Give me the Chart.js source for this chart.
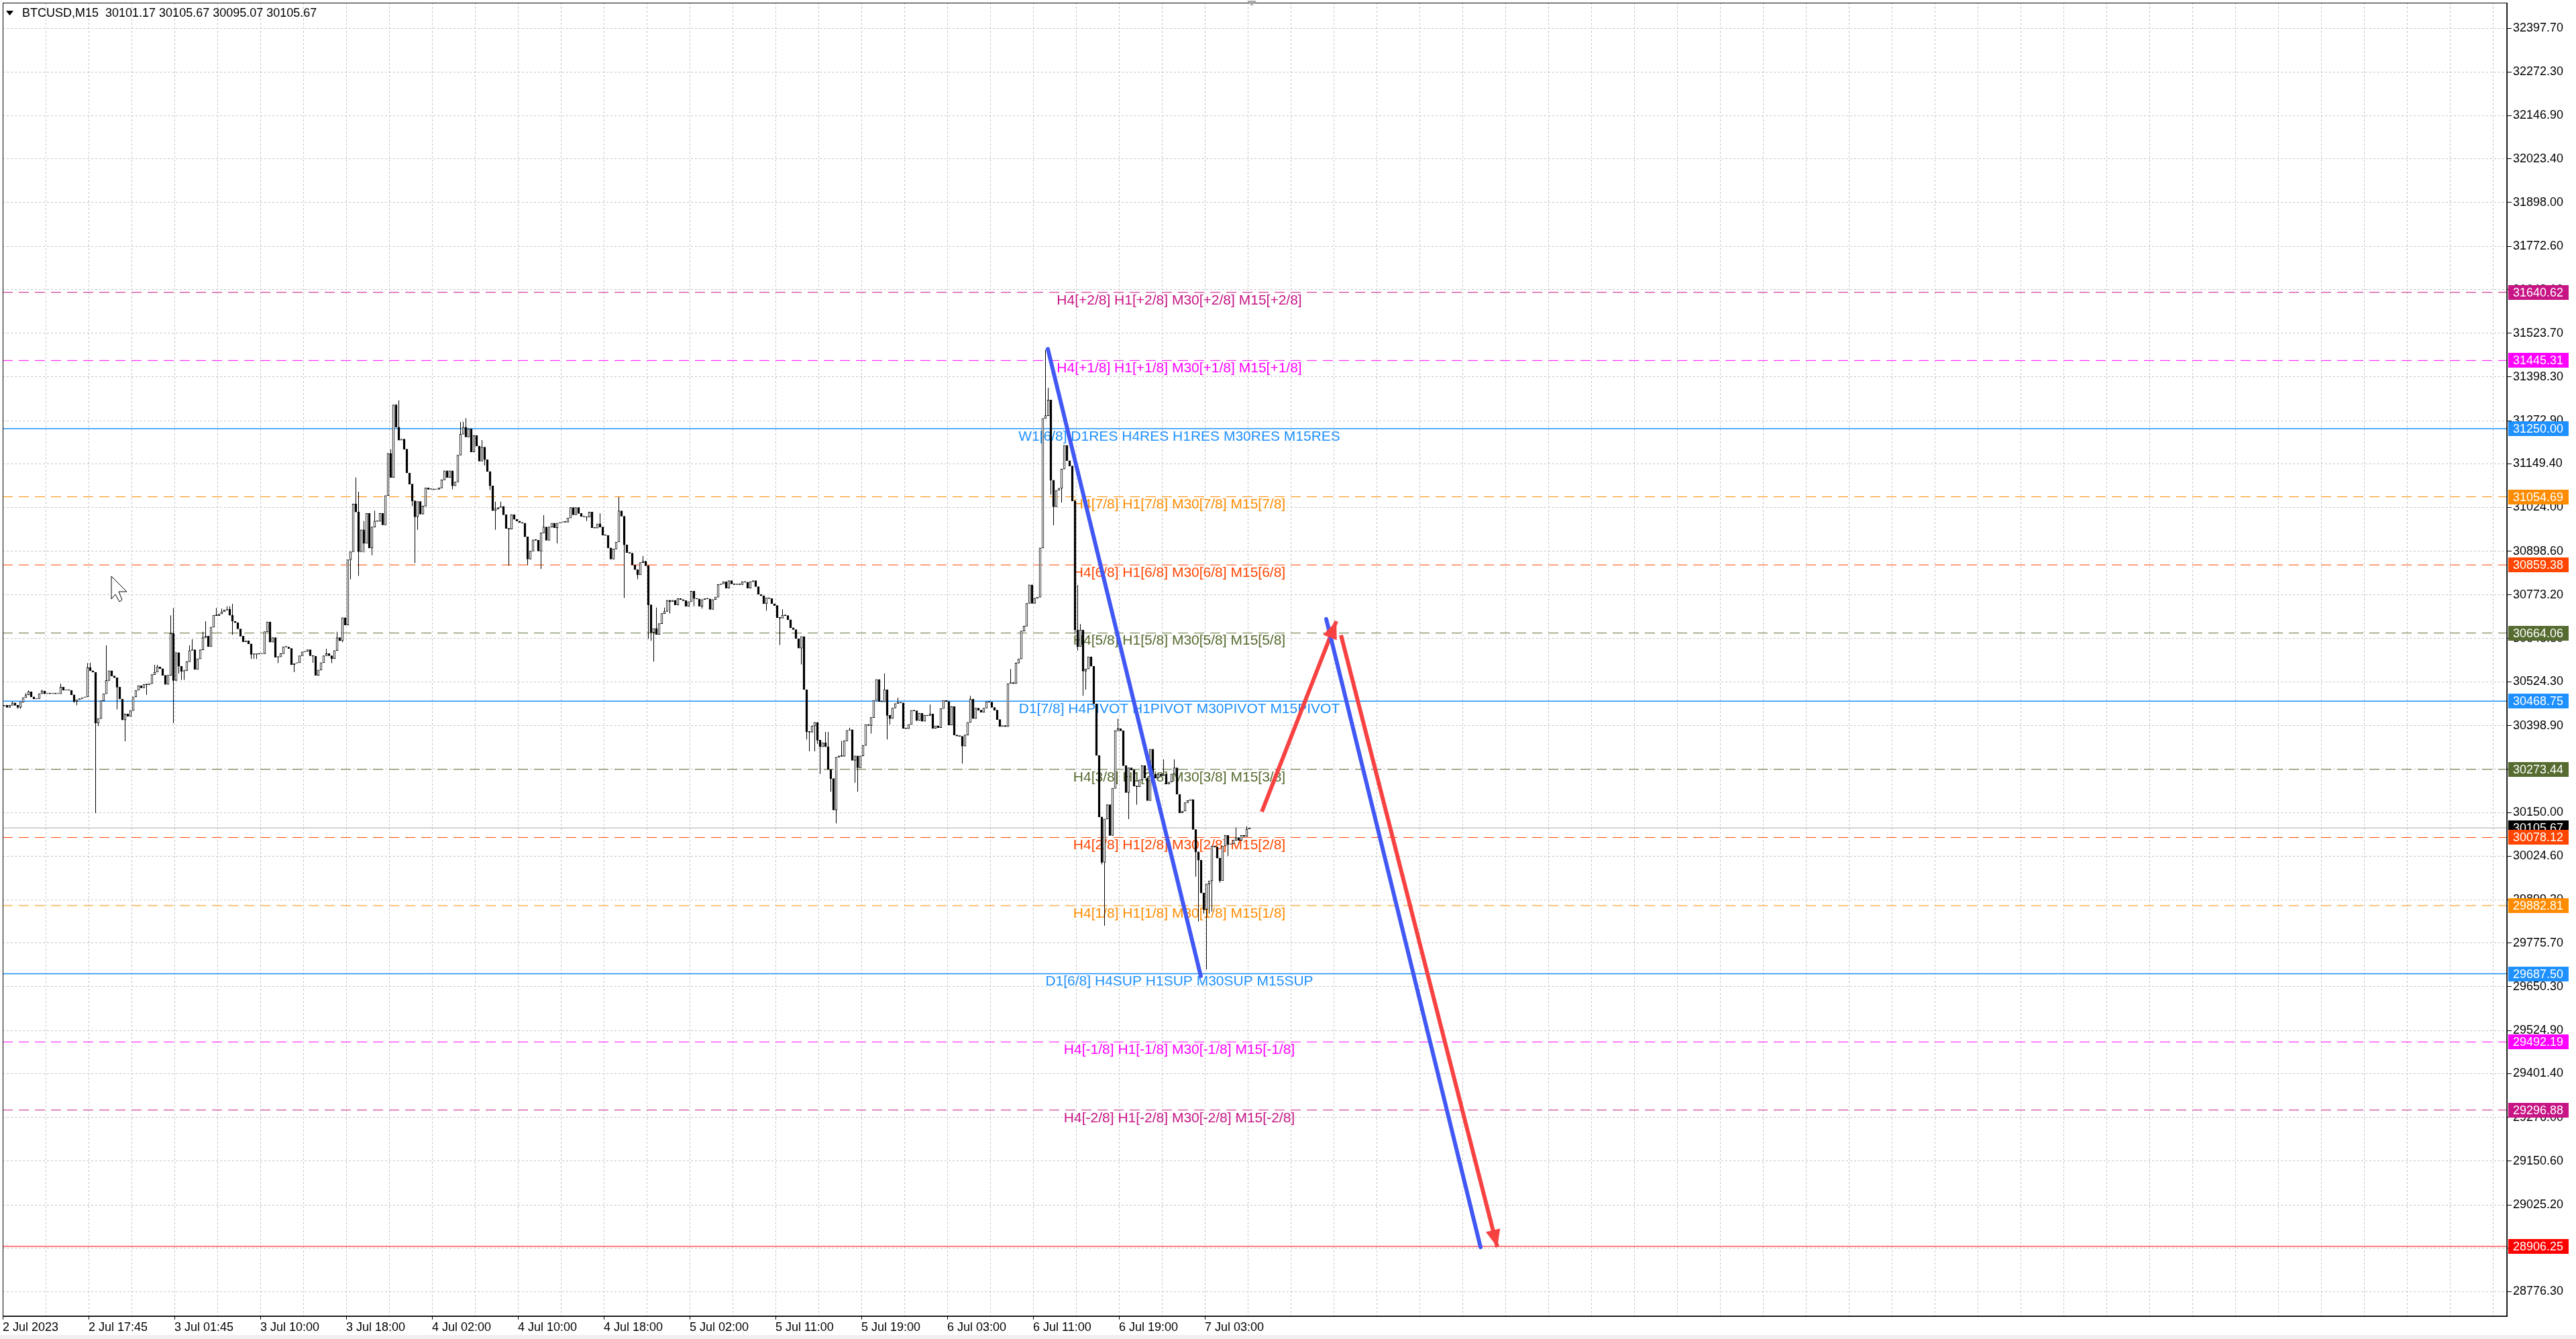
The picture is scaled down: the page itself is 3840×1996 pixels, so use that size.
<!DOCTYPE html>
<html>
<head>
<meta charset="utf-8">
<title>BTCUSD,M15</title>
<script src="https://cdn.jsdelivr.net/npm/chart.js@4.4.1/dist/chart.umd.min.js"></script>
<style>
  html, body { margin: 0; padding: 0; background: #fff; overflow: hidden; }
  #wrap { width: 3840px; height: 1996px; }
</style>
</head>
<body>
<div id="wrap"><canvas id="chart" width="3840" height="1996" style="width:3840px;height:1996px"></canvas></div>
<script>
// --- data ---
const headerText = 'BTCUSD,M15  30101.17 30105.67 30095.07 30105.67';
const firstOpen = 30455;

// close of every M15 bar, left to right
const closes = [
  30457,30451,30457,30464,30457,30451,30466,30479,30487,30496,30481,30475,30476,30490,30498,30490,30491,30490,30491,30490,
  30490,30509,30500,30502,30500,30487,30468,30473,30476,30479,30481,30565,30556,30552,30406,30419,30470,30490,30528,30556,
  30541,30536,30509,30475,30415,30432,30425,30442,30481,30500,30513,30507,30517,30516,30519,30545,30552,30567,30562,30543,
  30517,30543,30663,30528,30608,30569,30554,30556,30582,30614,30616,30560,30590,30616,30651,30655,30625,30681,30715,30714,
  30719,30725,30730,30732,30715,30698,30694,30676,30655,30639,30642,30633,30603,30603,30605,30604,30605,30668,30696,30638,
  30651,30595,30596,30605,30625,30624,30620,30573,30577,30579,30599,30610,30611,30616,30599,30598,30543,30558,30579,30599,
  30605,30599,30591,30614,30651,30642,30708,30687,30874,30897,31034,31011,30897,30960,30921,31007,30908,30968,30985,30984,
  31007,30974,31058,31179,31110,31318,31254,31217,31220,31191,31123,31091,31043,30997,31041,31005,31028,31080,31076,31077,
  31075,31076,31080,31103,31129,31110,31129,31086,31097,31174,31234,31254,31226,31249,31183,31230,31200,31157,31197,31161,
  31127,31086,31015,31020,31024,31027,31003,30964,30962,31003,30990,30985,30981,30979,30940,30876,30899,30931,30930,30899,
  30951,30968,30930,30968,30979,30966,30979,30981,30983,30982,30994,31024,31003,31024,31007,30998,30997,30996,31011,30966,
  30965,30977,30968,30945,30944,30908,30876,30905,30925,31014,30999,30917,30895,30893,30859,30846,30831,30866,30870,30857,
  30745,30666,30677,30660,30691,30720,30726,30758,30754,30758,30745,30763,30760,30757,30741,30754,30784,30763,30762,30741,
  30760,30763,30762,30732,30760,30767,30803,30805,30811,30793,30814,30805,30803,30804,30803,30811,30810,30793,30811,30814,
  30797,30775,30771,30748,30765,30763,30748,30743,30708,30707,30715,30714,30702,30679,30674,30648,30621,30654,30502,30381,
  30380,30398,30408,30357,30338,30350,30338,30273,30247,30157,30308,30312,30311,30355,30385,30387,30299,30312,30278,30312,
  30342,30402,30399,30422,30471,30531,30468,30467,30502,30428,30419,30449,30462,30465,30464,30391,30390,30402,30442,30441,
  30413,30434,30411,30428,30427,30432,30391,30398,30393,30448,30471,30468,30400,30453,30372,30369,30368,30340,30372,30408,
  30475,30419,30449,30443,30437,30449,30467,30466,30451,30443,30416,30396,30399,30396,30519,30522,30519,30578,30590,30670,
  30684,30749,30802,30749,30764,30767,30908,31279,31287,31332,31102,31026,31073,31079,31134,31202,31158,31143,31043,30673,
  30625,30673,30555,30561,30596,30569,30461,30313,30137,30007,30131,30172,30084,30219,30384,30390,30384,30284,30207,30278,
  30272,30225,30224,30243,30284,30249,30184,30331,30260,30249,30260,30255,30260,30231,30237,30260,30278,30202,30149,30154,
  30178,30184,30187,30101,30037,30013,29919,29872,29945,29954,30054,30051,30019,29954,30054,30084,30058,30060,30070,30078,
  30070,30084,30081,30102,30105.67
];

// wicks that stick out past the body: [bar number counted from 1, price]
const upperWicks = [
  [4,30468],[9,30492],[10,30500],[15,30502],[22,30519],[32,30578],[33,30579],[39,30629],[57,30573],[58,30573],
  [63,30715],[64,30736],[68,30559],[70,30629],[71,30646],[75,30668],[76,30698],[80,30736],[82,30734],[84,30741],
  [85,30741],[86,30748],[121,30619],[125,30668],[132,31110],[133,31069],[135,30985],[139,31015],[145,31191],[147,31320],
  [148,31331],[171,31269],[172,31269],[173,31280],[179,31217],[184,31041],[186,31041],[202,31002],[223,31007],[230,31054],
  [239,30885],[244,30737],[247,30737],[291,30732],[307,30381],[308,30381],[313,30355],[316,30393],[329,30548],[334,30479],
  [346,30459],[355,30451],[361,30484],[376,30561],[389,31476],[390,31367],[401,30802],[402,30690],[416,30419],[433,30302],
  [437,30302],[460,30107],[464,30110]
];
const lowerWicks = [
  [6,30447],[7,30447],[27,30464],[28,30457],[35,30148],[36,30397],[43,30445],[46,30354],[54,30487],[64,30406],
  [66,30548],[67,30530],[68,30530],[86,30659],[93,30590],[94,30590],[95,30590],[103,30578],[109,30552],[116,30579],
  [120,30579],[123,30578],[127,30638],[130,30818],[133,30828],[135,30895],[138,30887],[153,31028],[154,30865],[155,30960],
  [168,31076],[180,31144],[182,31074],[184,30960],[189,30857],[196,30859],[201,30848],[207,30921],[218,30985],[232,30765],
  [237,30818],[241,30647],[242,30642],[243,30582],[249,30720],[258,30741],[261,30734],[285,30728],[290,30630],[298,30574],
  [300,30359],[301,30325],[303,30325],[304,30346],[305,30260],[309,30209],[311,30119],[318,30235],[319,30209],[324,30376],
  [330,30359],[331,30402],[358,30290],[391,31061],[392,30973],[395,31038],[400,30661],[401,30614],[403,30484],[404,30502],
  [410,30001],[411,29825],[420,30131],[423,30172],[445,29966],[446,29837],[448,29860],[449,29700],[450,29860],[451,29866],
  [454,29948],[457,30025]
];

// time axis labels, one every 32 bars
const xLabels = ['2 Jul 2023','2 Jul 17:45','3 Jul 01:45','3 Jul 10:00','3 Jul 18:00','4 Jul 02:00','4 Jul 10:00',
  '4 Jul 18:00','5 Jul 02:00','5 Jul 11:00','5 Jul 19:00','6 Jul 03:00','6 Jul 11:00','6 Jul 19:00','7 Jul 03:00'];

// price axis labels
const yTicks = [32397.70,32272.30,32146.90,32023.40,31898.00,31772.60,31648.10,31523.70,31398.30,31272.90,
  31149.40,31024.00,30898.60,30773.20,30648.80,30524.30,30398.90,30273.40,30150.00,30024.60,
  29899.20,29775.70,29650.30,29524.90,29401.40,29276.00,29150.60,29025.20,28900.90,28776.30];

// Murrey / pivot levels
const levelPrices = [31640.62,31445.31,31250.00,31054.69,30859.38,30664.06,30468.75,
  30273.44,30078.12,29882.81,29687.50,29492.19,29296.88,28906.25];
const levelColors = ['#c71585','#ff00ff','#1e90ff','#ff8c00','#ff4500','#556b2f','#1e90ff',
  '#556b2f','#ff4500','#ff8c00','#1e90ff','#ff00ff','#c71585','#ff0000'];
const levelDashed = [true,true,false,true,true,true,false,true,true,true,false,true,true,false];
const levelTexts = [
  'H4[+2/8] H1[+2/8] M30[+2/8] M15[+2/8]',
  'H4[+1/8] H1[+1/8] M30[+1/8] M15[+1/8]',
  'W1[6/8] D1RES H4RES H1RES M30RES M15RES',
  'H4[7/8] H1[7/8] M30[7/8] M15[7/8]',
  'H4[6/8] H1[6/8] M30[6/8] M15[6/8]',
  'H4[5/8] H1[5/8] M30[5/8] M15[5/8]',
  'D1[7/8] H4PIVOT H1PIVOT M30PIVOT M15PIVOT',
  'H4[3/8] H1[3/8] M30[3/8] M15[3/8]',
  'H4[2/8] H1[2/8] M30[2/8] M15[2/8]',
  'H4[1/8] H1[1/8] M30[1/8] M15[1/8]',
  'D1[6/8] H4SUP H1SUP M30SUP M15SUP',
  'H4[-1/8] H1[-1/8] M30[-1/8] M15[-1/8]',
  'H4[-2/8] H1[-2/8] M30[-2/8] M15[-2/8]',
  ''
];
const bidPrice = 30105.67;

// hand drawn trend lines (x in bar slots, y in price)
const blueLeg1X = [389.5, 446.5],   blueLeg1Y = [31478, 29681];
const redLegUpX = [469.25, 497],    redLegUpY = [30152, 30698];
const redLegDownX = [498.75, 557],  redLegDownY = [30658, 28904];
const blueLeg2X = [493.25, 550.75], blueLeg2Y = [30704, 28904];

// --- setup ---
const slotCount = 933.25;   // visible bar slots across the window
const levelTextX = 438.5;   // where the level captions are centred
const FONT = '"Liberation Sans", Arial, sans-serif';

Chart.defaults.font.family = FONT;
Chart.defaults.font.size = 18;
Chart.defaults.color = '#000';

// open of a bar = close of the one before
const opens = closes.map((c, i) => i === 0 ? firstOpen : closes[i - 1]);
const highs = closes.map((c, i) => Math.max(c, opens[i]));
const lows = closes.map((c, i) => Math.min(c, opens[i]));
upperWicks.forEach(([n, p]) => { highs[n - 1] = Math.max(highs[n - 1], p); });
lowerWicks.forEach(([n, p]) => { lows[n - 1] = Math.min(lows[n - 1], p); });

const barX = i => i + 0.625;
const bodyData = closes.map((c, i) => ({ x: barX(i), y: [opens[i], c] }));
const wickData = closes.map((c, i) => ({ x: barX(i), y: [lows[i], highs[i]] }));
const bodyFill = closes.map((c, i) => c >= opens[i] ? '#ffffff' : '#000000');

const toPoints = (xs, ys) => xs.map((x, i) => ({ x: x, y: ys[i] }));

const levelSets = levelPrices.map((p, i) => ({
  type: 'line',
  data: [{ x: 0, y: p }, { x: slotCount, y: p }],
  borderColor: levelColors[i],
  borderWidth: levelColors[i] === '#1e90ff' ? 1.5 : 1,
  borderDash: levelDashed[i] ? [15, 9] : [],
  pointRadius: 0,
  order: 3
}));

const trendSet = (xs, ys, color, arrow) => ({
  type: 'line',
  data: toPoints(xs, ys),
  borderColor: color,
  borderWidth: 6,
  borderCapStyle: arrow ? 'butt' : 'round',
  pointRadius: 0,
  arrowHead: arrow,
  order: 0
});

// no label overhang padding, the plot runs right to the window edge
const noPad = scale => {
  scale.paddingTop = 0; scale.paddingBottom = 0;
  scale.paddingLeft = 0; scale.paddingRight = 0;
};

// captions, price boxes, frame and header
const mtPlugin = {
  id: 'mtDecor',
  beforeDatasetsDraw(chart) {
    const { ctx, scales: { x, y } } = chart;
    ctx.save();
    ctx.font = '21px ' + FONT;
    ctx.textAlign = 'center';
    ctx.textBaseline = 'middle';
    const cx = x.getPixelForValue(levelTextX);
    levelPrices.forEach((p, i) => {
      if (!levelTexts[i]) return;
      ctx.fillStyle = levelColors[i];
      ctx.fillText(levelTexts[i], cx, y.getPixelForValue(p) + 12);
    });
    ctx.restore();
  },
  afterDatasetsDraw(chart) {
    const { ctx } = chart;
    chart.data.datasets.forEach((ds, i) => {
      if (!ds.arrowHead) return;
      const pts = chart.getDatasetMeta(i).data;
      const a = pts[pts.length - 2], b = pts[pts.length - 1];
      const ang = Math.atan2(b.y - a.y, b.x - a.x);
      const len = 26, half = 11;
      const bx = b.x - len * Math.cos(ang), by = b.y - len * Math.sin(ang);
      ctx.save();
      ctx.fillStyle = ds.borderColor;
      ctx.beginPath();
      ctx.moveTo(b.x, b.y);
      ctx.lineTo(bx + half * Math.sin(ang), by - half * Math.cos(ang));
      ctx.lineTo(bx - half * Math.sin(ang), by + half * Math.cos(ang));
      ctx.closePath();
      ctx.fill();
      ctx.restore();
    });
  },
  afterDraw(chart) {
    const { ctx, chartArea: a, scales: { y } } = chart;
    ctx.save();
    // window edge
    ctx.fillStyle = '#f0f0f0';
    ctx.fillRect(0, 1990, 3840, 6);
    // frame
    ctx.strokeStyle = '#000';
    ctx.lineWidth = 1;
    ctx.strokeRect(a.left + 0.5, a.top + 0.5, a.right - a.left, a.bottom - a.top);
    ctx.lineWidth = 1.5;
    ctx.beginPath();
    ctx.moveTo(a.right, a.top); ctx.lineTo(a.right, a.bottom); ctx.lineTo(a.left, a.bottom);
    ctx.stroke();
    // chart shift marker
    ctx.fillStyle = '#a8a8a8';
    ctx.beginPath();
    ctx.moveTo(1859, 1); ctx.lineTo(1873, 1); ctx.lineTo(1866, 9); ctx.closePath();
    ctx.fill();
    // mouse pointer left on the chart
    ctx.fillStyle = '#fff';
    ctx.strokeStyle = '#000';
    ctx.lineWidth = 1;
    ctx.beginPath();
    ctx.moveTo(166, 859); ctx.lineTo(166, 893); ctx.lineTo(172, 886); ctx.lineTo(178, 897);
    ctx.lineTo(182, 894); ctx.lineTo(177, 882); ctx.lineTo(189, 882); ctx.closePath();
    ctx.fill(); ctx.stroke();

    // price boxes on the axis
    ctx.font = '18px ' + FONT;
    ctx.textAlign = 'left';
    ctx.textBaseline = 'middle';
    const box = (p, color) => {
      const py = Math.round(y.getPixelForValue(p));
      ctx.fillStyle = color;
      ctx.fillRect(a.right + 2, py - 11, 90, 22);
      ctx.fillStyle = '#fff';
      ctx.fillText(p.toFixed(2), a.right + 9, py + 1);
    };
    box(bidPrice, '#000');
    levelPrices.forEach((p, i) => box(p, levelColors[i]));

    // header
    ctx.fillStyle = '#000';
    ctx.beginPath();
    ctx.moveTo(9, 16); ctx.lineTo(20, 16); ctx.lineTo(14.5, 23); ctx.closePath();
    ctx.fill();
    ctx.fillText(headerText, 33, 20);
    ctx.restore();
  }
};

const ctx = document.getElementById('chart').getContext('2d');

const myChart = new Chart(ctx, {
  type: 'bar',
  data: {
    datasets: [
      trendSet(blueLeg1X, blueLeg1Y, 'rgb(66, 88, 244)', false),
      trendSet(blueLeg2X, blueLeg2Y, 'rgb(66, 88, 244)', false),
      trendSet(redLegUpX, redLegUpY, 'rgb(248, 66, 66)', true),
      trendSet(redLegDownX, redLegDownY, 'rgb(248, 66, 66)', true),
      {
        // candle bodies
        data: bodyData,
        backgroundColor: bodyFill,
        borderColor: '#000',
        borderWidth: 1,
        borderSkipped: false,
        barThickness: 3,
        minBarLength: 1,
        grouped: false,
        order: 1
      },
      {
        // high-low wicks
        data: wickData,
        backgroundColor: '#000',
        borderWidth: 0,
        barThickness: 1,
        inflateAmount: 0,
        grouped: false,
        order: 2
      },
      {
        type: 'line',
        data: [{ x: 0, y: bidPrice }, { x: slotCount, y: bidPrice }],
        borderColor: '#a9a9a9',
        borderWidth: 1,
        pointRadius: 0,
        order: 3
      },
      ...levelSets
    ]
  },
  options: {
    responsive: false,
    devicePixelRatio: 1,
    animation: false,
    events: [],
    layout: { padding: { left: 4, top: 4, right: 0, bottom: 0 }, autoPadding: false },
    plugins: { legend: { display: false }, tooltip: { enabled: false } },
    scales: {
      x: {
        type: 'linear',
        min: 0,
        max: slotCount,
        offset: false,
        bounds: 'data',
        afterBuildTicks: scale => {
          const t = [];
          for (let v = 0; v <= slotCount; v += 16) t.push({ value: v });
          scale.ticks = t;
        },
        afterFit: scale => { scale.height = 34; noPad(scale); },
        ticks: {
          autoSkip: false,
          maxRotation: 0,
          minRotation: 0,
          align: 'start',
          padding: 1,
          font: { size: 18 },
          callback: v => (v % 32 === 0 && v / 32 < xLabels.length) ? xLabels[v / 32] : ''
        },
        grid: {
          offset: false,
          color: '#c4c4c4',
          lineWidth: 1,
          tickLength: 5,
          tickColor: c => (c.tick && c.tick.value % 32 === 0 && c.tick.value / 32 < xLabels.length) ? '#000' : 'rgba(0,0,0,0)'
        },
        border: { display: false, dash: [3, 3] }
      },
      y: {
        type: 'linear',
        position: 'right',
        min: 28706.1,
        max: 32470.8,
        beginAtZero: false,
        bounds: 'data',
        afterBuildTicks: scale => { scale.ticks = yTicks.map(v => ({ value: v })); },
        afterFit: scale => { scale.width = 103; noPad(scale); },
        ticks: {
          autoSkip: false,
          padding: 2,
          font: { size: 18 },
          callback: v => v.toFixed(2)
        },
        grid: {
          color: '#c4c4c4',
          lineWidth: 1,
          tickLength: 7,
          tickColor: '#000'
        },
        border: { display: false, dash: [3, 3] }
      }
    }
  },
  plugins: [mtPlugin]
});
</script>
</body>
</html>
